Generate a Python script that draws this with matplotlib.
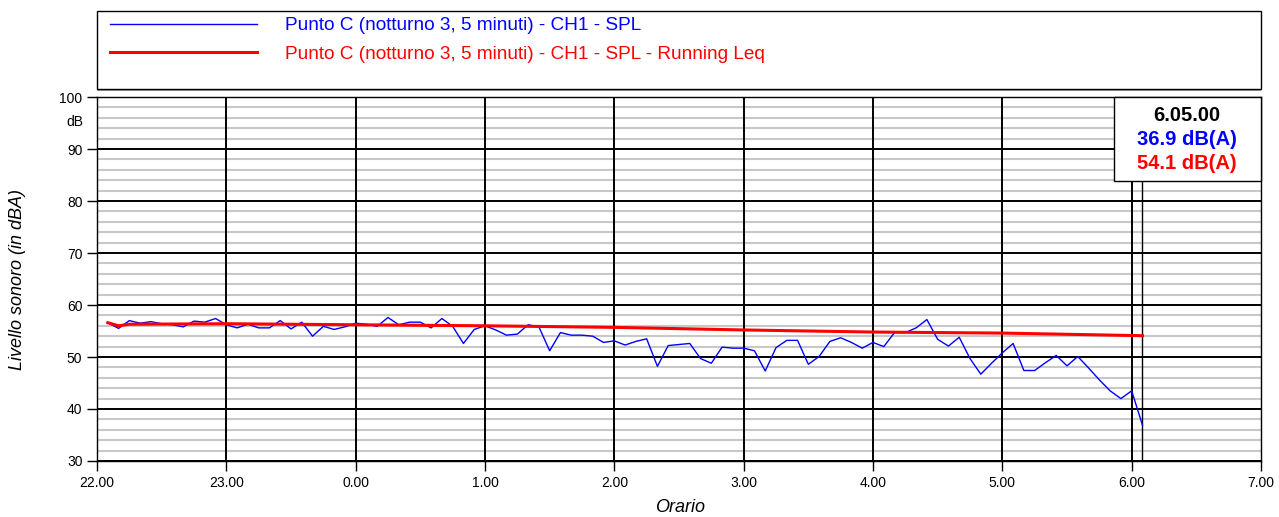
import numpy as np
import matplotlib.pyplot as plt
from matplotlib.patches import Rectangle

plt.rcParams["font.family"] = ["Liberation Sans", "DejaVu Sans"]

# orari (minuti dopo le 22.00), campioni ogni 5 minuti dalle 22.05 alle 6.05
minutes = np.arange(5, 486, 5)

spl = [
    56.6, 55.5, 57.0, 56.5, 56.8, 56.4, 56.2, 55.8, 56.9, 56.7, 57.4,              # 22.05-22.55
    56.2, 55.6, 56.3, 55.6, 55.6, 57.0, 55.4, 56.7, 54.0, 55.9, 55.3, 55.8,        # 23
    56.5, 56.3, 55.9, 57.6, 56.2, 56.7, 56.7, 55.6, 57.4, 55.9, 52.6, 55.3,        # 0
    56.0, 55.2, 54.2, 54.4, 56.2, 55.8, 51.2, 54.7, 54.2, 54.2, 54.0, 52.8,        # 1
    53.1, 52.3, 53.0, 53.5, 48.2, 52.2, 52.4, 52.6, 49.7, 48.8, 51.9, 51.7,        # 2
    51.7, 51.2, 47.3, 51.8, 53.2, 53.2, 48.6, 50.1, 53.0, 53.7, 52.8, 51.7,        # 3
    52.8, 52.0, 54.7, 54.7, 55.6, 57.2, 53.4, 52.1, 53.8, 49.7, 46.7, 48.8,        # 4
    50.8, 52.6, 47.4, 47.4, 48.9, 50.3, 48.3, 50.1, 47.9, 45.6, 43.5, 42.0,        # 5
    43.5, 36.9,                                                                    # 6.00-6.05
]

# running Leq letto a intervalli
leq_minutes = [5, 10, 15, 60, 120, 180, 240, 300, 360, 420, 485]
leq = [56.6, 56.0, 56.3, 56.4, 56.2, 56.0, 55.7, 55.2, 54.8, 54.6, 54.1]

hour_labels = ["22.00", "23.00", "0.00", "1.00", "2.00", "3.00", "4.00", "5.00", "6.00", "7.00"]
cursor_time = "6.05.00"
cursor_spl = "36.9 dB(A)"
cursor_leq = "54.1 dB(A)"

label_spl = "Punto C (notturno 3, 5 minuti) - CH1 - SPL"
label_leq = "Punto C (notturno 3, 5 minuti) - CH1 - SPL - Running Leq"

W, H = 1279, 517
fig = plt.figure(figsize=(W / 100, H / 100), dpi=100)
ax = fig.add_axes([97 / W, 1 - 461 / H, (1261 - 97) / W, (461 - 97) / H])

x = minutes / 60
line_spl, = ax.plot(x, spl, color="blue", linewidth=1, zorder=4)
line_leq, = ax.plot(np.array(leq_minutes) / 60, leq, color="red", linewidth=2.2, zorder=5)

ax.set_xlim(0, 9)
ax.set_ylim(30, 100)
ax.set_xticks(range(10))
ax.set_xticklabels(hour_labels)
ax.set_yticks(range(30, 101, 10))
ax.set_yticks(range(30, 101, 2), minor=True)
ax.tick_params(axis="both", which="major", direction="out", length=7, width=1, labelsize=10)
ax.tick_params(axis="y", which="minor", length=0)

# griglia: grigio ogni 2 dB, nero ogni 10 dB e ogni ora
ax.grid(which="minor", axis="y", color="#c8c8c8", linewidth=1.5, zorder=1)
ax.grid(which="major", axis="y", color="black", linewidth=1.4, zorder=2)
ax.set_axisbelow(True)
for h in range(1, 9):
    ax.axvline(h, color="black", linewidth=1.4, zorder=2.5)
for s in ax.spines.values():
    s.set_linewidth(1)

# unita' sotto il 100
ax.text(-0.012, 95.2, "dB", transform=ax.get_yaxis_transform(), ha="right", va="center", fontsize=10)

# cursore
cx = minutes[-1] / 60
ax.axvline(cx, color="black", linewidth=1, zorder=3)
box_left, box_bottom = 7.86, 83.85
ax.add_patch(Rectangle((box_left, box_bottom), 9 - box_left, 100 - box_bottom,
                       facecolor="white", edgecolor="black", linewidth=1, zorder=10, clip_on=False))
bx = (box_left + 9) / 2
ax.text(bx, 96.4, cursor_time, ha="center", va="center", fontsize=14.5, fontweight="bold", color="black", zorder=11)
ax.text(bx, 91.8, cursor_spl, ha="center", va="center", fontsize=14.5, fontweight="bold", color="blue", zorder=11)
ax.text(bx, 87.2, cursor_leq, ha="center", va="center", fontsize=14.5, fontweight="bold", color="red", zorder=11)

# riquadro legenda
fig.patches.append(Rectangle((97 / W, 1 - 91 / H), (1261 - 97) / W, (91 - 11) / H,
                             transform=fig.transFigure, facecolor="#a0a0a0", edgecolor="none", zorder=0))
fig.patches.append(Rectangle((97 / W, 1 - 89 / H), (1261 - 97) / W, (89 - 11) / H,
                             transform=fig.transFigure, facecolor="white", edgecolor="black", linewidth=1, zorder=1))
leg = fig.legend([line_spl, line_leq], [label_spl, label_leq], loc="upper left",
                 bbox_to_anchor=(110 / W, 1 - 17 / H), frameon=False, fontsize=13.7,
                 handlelength=7.7, handletextpad=1.5, labelspacing=0.6, borderpad=0, borderaxespad=0)
for t, c in zip(leg.get_texts(), ["blue", "red"]):
    t.set_color(c)

fig.text(18 / W, 1 - 279 / H, "Livello sonoro (in dBA)", rotation=90, ha="center", va="center",
         fontsize=13, style="italic")
fig.text(680 / W, 1 - 508 / H, "Orario", ha="center", va="center", fontsize=13, style="italic")

fig.savefig("out.png", dpi=100)
